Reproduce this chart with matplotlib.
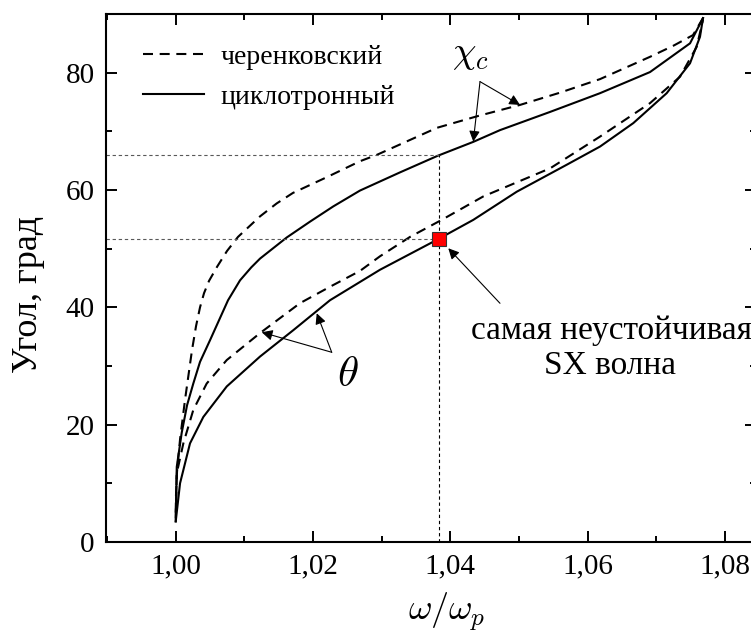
import matplotlib
matplotlib.use("Agg")
import matplotlib.pyplot as plt
from matplotlib.ticker import MultipleLocator, FuncFormatter

plt.rcParams['font.family'] = ['Liberation Serif', 'DejaVu Serif']
plt.rcParams['mathtext.fontset'] = 'cm'

# ---- data ----
# Cherenkov, chi_c (upper dashed)
cher_chi_x = [1.0000, 1.00004, 1.00019, 1.00063, 1.00135, 1.00237, 1.00296, 1.00354, 1.00412,
              1.00485, 1.00602, 1.00747, 1.00907, 1.01228, 1.0147, 1.01708, 1.02204, 1.02684,
              1.02932, 1.03806, 1.04400, 1.05015, 1.0560, 1.0618, 1.06908, 1.0725, 1.07534, 1.0768]
cher_chi_y = [5.0, 8.0, 12.0, 17.5, 24.2, 32.7, 36.8, 40.0, 42.4,
              44.5, 46.9, 49.6, 52.0, 55.5, 57.7, 59.5, 62.2, 64.9,
              66.0, 70.6, 72.6, 74.5, 76.6, 78.9, 82.7, 84.6, 86.4, 89.3]
# Cyclotron, chi_c (upper solid)
cycl_chi_x = [1.0000, 1.00015, 1.00087, 1.00165, 1.00256, 1.00354, 1.0050, 1.00631, 1.00762,
              1.00937, 1.0110, 1.01228, 1.01617, 1.01956, 1.02295, 1.02684, 1.03267, 1.0381,
              1.04334, 1.04723, 1.05451, 1.0618, 1.06908, 1.07491, 1.0768]
cycl_chi_y = [3.5, 12.8, 18.6, 23.3, 27.0, 30.7, 34.4, 37.8, 41.2,
              44.6, 46.8, 48.3, 51.9, 54.6, 57.2, 59.9, 63.0, 65.8,
              68.2, 70.2, 73.3, 76.5, 80.1, 85.0, 89.3]
# Cherenkov, theta (lower dashed)
cher_th_x = [1.0000, 1.00015, 1.00111, 1.00256, 1.00451, 1.00743, 1.01228, 1.0181, 1.02247,
             1.02684, 1.02976, 1.03413, 1.03874, 1.0448, 1.05455, 1.0618, 1.06908, 1.07345,
             1.07588, 1.0768]
cher_th_y = [4.0, 11.7, 16.8, 22.5, 27.0, 31.0, 35.6, 40.7, 43.5,
             46.2, 48.7, 52.0, 54.9, 58.9, 63.7, 69.1, 74.8, 79.3,
             84.4, 89.0]
# Cyclotron, theta (lower solid)
cycl_th_x = [1.0000, 1.00063, 1.00208, 1.00402, 1.00743, 1.01228, 1.01713, 1.02247, 1.02976,
             1.0382, 1.04334, 1.04967, 1.05695, 1.0618, 1.06665, 1.07151, 1.07491, 1.07636, 1.0768]
cycl_th_y = [3.5, 10.0, 16.8, 21.3, 26.5, 31.6, 36.1, 41.2, 46.4,
             51.6, 54.9, 59.7, 64.3, 67.4, 71.4, 76.5, 81.6, 86.1, 89.3]

# most unstable SX wave
sx_x = 1.0383
sx_y = 51.7
chi_at_sx = 65.9

legend_labels = ['черенковский', 'циклотронный']
xticks = [1.00, 1.02, 1.04, 1.06, 1.08]
yticks = [0, 20, 40, 60, 80]

# ---- figure ----
W, H = 751, 635
fig = plt.figure(figsize=(W / 100, H / 100), dpi=100)
ax = fig.add_axes([105.7 / W, 1 - 541.9 / H, (756 - 105.7) / W, (541.9 - 14) / H])
ax.set_xlim(0.9898, 1.08452)
ax.set_ylim(0, 90)

dash = (0, (4.8, 3.2))
lw = 1.5
ax.plot(cher_chi_x, cher_chi_y, color='black', lw=lw, linestyle=dash, label=legend_labels[0])
ax.plot(cycl_chi_x, cycl_chi_y, color='black', lw=lw, linestyle='-', label=legend_labels[1])
ax.plot(cher_th_x, cher_th_y, color='black', lw=lw, linestyle=dash)
ax.plot(cycl_th_x, cycl_th_y, color='black', lw=lw, linestyle='-')

# guide lines
x0 = ax.get_xlim()[0]
ax.plot([x0, sx_x], [chi_at_sx, chi_at_sx], color='0.35', lw=0.8, linestyle=(0, (3, 2.5)))
ax.plot([x0, sx_x], [sx_y, sx_y], color='0.35', lw=0.8, linestyle=(0, (3, 2.5)))
ax.plot([sx_x, sx_x], [0, chi_at_sx], color='black', lw=0.8, linestyle=(0, (3, 2.5)))

ax.plot([sx_x], [sx_y], marker='s', markersize=10, markerfacecolor='#ff0000',
        markeredgecolor='#333333', markeredgewidth=0.8, linestyle='none', zorder=5)

aprops = dict(arrowstyle='-|>', lw=0.8, color='black', mutation_scale=16,
              shrinkA=0, shrinkB=0)
# chi_c arrows
ax.annotate('', xy=(1.04334, 68.24), xytext=(1.04432, 78.47), arrowprops=aprops)
ax.annotate('', xy=(1.05015, 74.5), xytext=(1.04432, 78.47), arrowprops=aprops)
ax.text(1.0429, 83.0, r'$\chi_c$', fontsize=27, ha='center', va='center')
# theta arrows
ax.annotate('', xy=(1.02054, 38.98), xytext=(1.02272, 32.33), arrowprops=aprops)
ax.annotate('', xy=(1.01253, 35.74), xytext=(1.02272, 32.33), arrowprops=aprops)
ax.text(1.0250, 28.4, r'$\theta$', fontsize=31, ha='center', va='center')
# SX arrow
ax.annotate('', xy=(1.0397, 50.06), xytext=(1.04723, 40.68), arrowprops=aprops)
ax.text(1.0634, 36.0, 'самая неустойчивая', fontsize=24, ha='center', va='center')
ax.text(1.0633, 30.1, 'SX волна', fontsize=24, ha='center', va='center')

ax.legend(loc='upper left', bbox_to_anchor=(0.04, 0.963), frameon=False, fontsize=20,
          handlelength=2.2, handletextpad=0.6, labelspacing=0.52, borderaxespad=0)

ax.xaxis.set_major_locator(MultipleLocator(0.02))
ax.xaxis.set_minor_locator(MultipleLocator(0.01))
ax.yaxis.set_major_locator(MultipleLocator(20))
ax.yaxis.set_minor_locator(MultipleLocator(10))
ax.set_xticks(xticks)
ax.set_yticks(yticks)
ax.xaxis.set_major_formatter(FuncFormatter(lambda v, p: f"{v:.2f}".replace('.', ',')))
ax.yaxis.set_major_formatter(FuncFormatter(lambda v, p: f"{v:.0f}"))
ax.tick_params(which='both', direction='in', top=True, right=True, width=1.4, labelsize=21)
ax.tick_params(which='major', length=8, pad=8)
ax.tick_params(which='minor', length=4.5)
for s in ax.spines.values():
    s.set_linewidth(1.5)

ax.set_xlabel(r'$\omega/\omega_p$', fontsize=26)
ax.xaxis.set_label_coords((446.5 - 105.7) / 650.3, -0.093)
ax.set_ylabel('Угол, град', fontsize=26)
ax.yaxis.set_label_coords(-0.093, (541.9 - 294) / 527.9)

fig.savefig('out.png', dpi=100)
